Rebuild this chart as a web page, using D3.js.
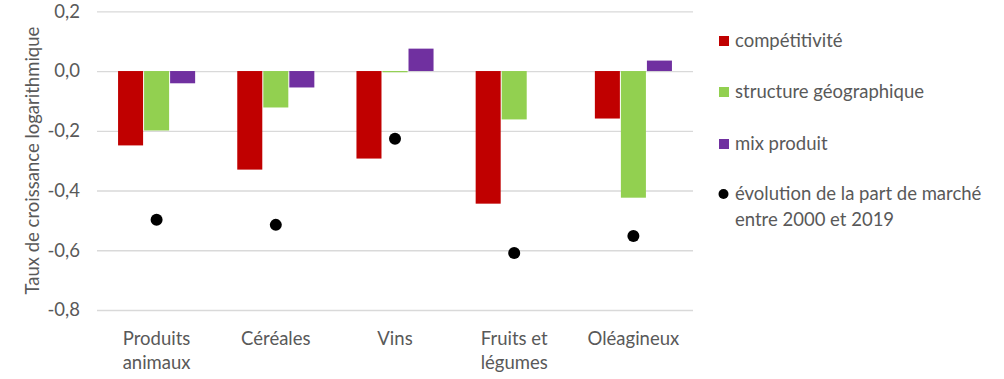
<!DOCTYPE html>
<html><head><meta charset="utf-8">
<script src="https://cdn.jsdelivr.net/npm/d3@7"></script>
<style>body{margin:0;background:#fff}svg{display:block}</style>
</head><body>
<svg id="c" width="1004" height="379"></svg>
<script>
const categories = [["Produits","animaux"],["Céréales"],["Vins"],["Fruits et","légumes"],["Oléagineux"]];
const seriesNames = ["compétitivité","structure géographique","mix produit"];
const seriesColors = ["#C00000","#92D050","#7030A0"];
const competitivite = [-0.249,-0.330,-0.293,-0.444,-0.159];
const structureGeo = [-0.199,-0.122,-0.004,-0.162,-0.424];
const mixProduit = [-0.041,-0.055,0.075,0.0,0.035];
const evolution = [-0.498,-0.515,-0.227,-0.609,-0.552];
const dotLegend = ["évolution de la part de marché","entre 2000 et 2019"];
const yTicks = [0.2,0.0,-0.2,-0.4,-0.6,-0.8];
const yTitle = "Taux de croissance logarithmique";

const svg = d3.select("#c");
const font = "Lato, 'Open Sans', sans-serif";
const fs = "18.5px";
const L=97, R=693, T=11.3, B=310;
const y = d3.scaleLinear().domain([-0.8,0.2]).range([B,T]);
const idx = d3.range(categories.length);
const x = d3.scaleBand().domain(idx).range([L,R]).paddingInner(0.345).paddingOuter(0.1725);
const xs = d3.scaleBand().domain([0,1,2]).range([0,x.bandwidth()]);

// gridlines
const yAxis = d3.axisLeft(y).tickValues(yTicks).tickSize(-(R-L)).tickFormat(d=>d3.format(".1f")(d).replace(".",",").replace("−","-"));
const ga = svg.append("g").attr("transform",`translate(${L},0)`).call(yAxis);
ga.select(".domain").remove();
ga.selectAll(".tick line").attr("stroke","#d9d9d9").attr("stroke-width",1.3);
ga.selectAll(".tick text").attr("x",-17).attr("fill","#595959").style("font-family",font).style("font-size",fs);

const data = [competitivite, structureGeo, mixProduit];
data.forEach((vals,s)=>{
  svg.append("g").selectAll("rect").data(idx).join("rect")
    .attr("x",i=>x(i)+xs(s)+0.5)
    .attr("width",xs.bandwidth()-1)
    .attr("y",i=>Math.min(y(vals[i]),y(0)))
    .attr("height",i=>Math.abs(y(vals[i])-y(0)))
    .attr("fill",seriesColors[s]);
});
svg.append("g").selectAll("circle").data(idx).join("circle")
  .attr("cx",i=>x(i)+x.bandwidth()/2)
  .attr("cy",i=>y(evolution[i]))
  .attr("r",6).attr("fill","#000");

// x labels
const xl = svg.append("g").selectAll("text").data(idx).join("text")
  .attr("x",i=>x(i)+x.bandwidth()/2).attr("y",345)
  .attr("text-anchor","middle").attr("fill","#595959")
  .style("font-family",font).style("font-size",fs);
xl.each(function(i){
  const t=d3.select(this);
  categories[i].forEach((line,k)=>t.append("tspan").attr("x",x(i)+x.bandwidth()/2).attr("dy",k?24:0).text(line));
});

// y title
svg.append("text").attr("transform",`translate(39,${(T+B)/2}) rotate(-90)`)
  .attr("text-anchor","middle").attr("fill","#595959")
  .style("font-family",font).style("font-size",fs).text(yTitle);

// legend
const legY=[41,92,144];
seriesNames.forEach((n,s)=>{
  svg.append("rect").attr("x",719).attr("y",legY[s]-5).attr("width",10).attr("height",10).attr("fill",seriesColors[s]);
  svg.append("text").attr("x",735).attr("y",legY[s]+6).attr("fill","#595959")
    .style("font-family",font).style("font-size",fs).text(n);
});
svg.append("circle").attr("cx",723.5).attr("cy",194).attr("r",5).attr("fill","#000");
dotLegend.forEach((t,k)=>svg.append("text").attr("x",735).attr("y",200+k*26).attr("fill","#595959")
  .style("font-family",font).style("font-size",fs).text(t));
</script>
</body></html>
